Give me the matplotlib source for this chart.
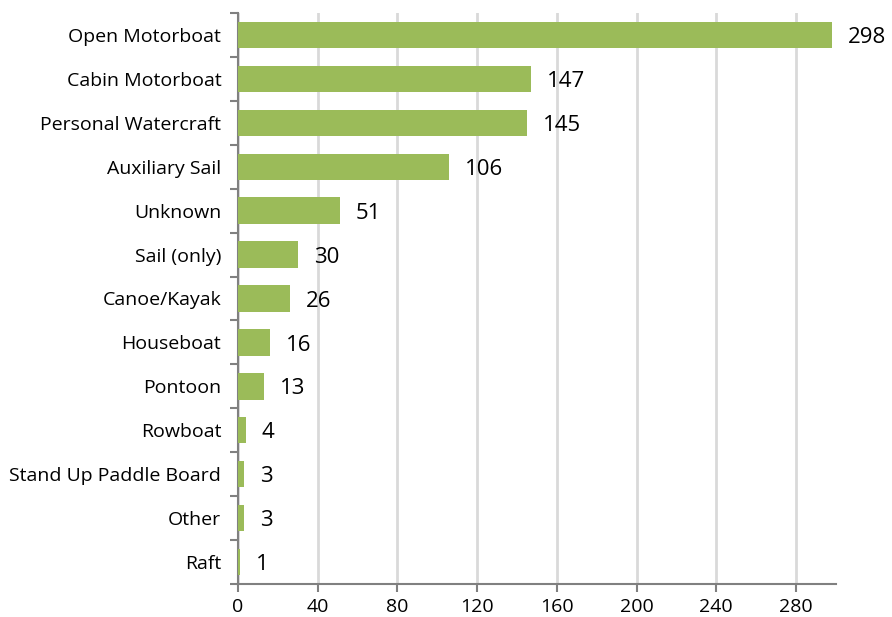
import matplotlib.pyplot as plt
import numpy as np

categories = ['Open Motorboat', 'Cabin Motorboat', 'Personal Watercraft', 'Auxiliary Sail',
              'Unknown', 'Sail (only)', 'Canoe/Kayak', 'Houseboat', 'Pontoon', 'Rowboat',
              'Stand Up Paddle Board', 'Other', 'Raft']
counts = [298, 147, 145, 106, 51, 30, 26, 16, 13, 4, 3, 3, 1]
x_ticks = [0, 40, 80, 120, 160, 200, 240, 280]

plt.rcParams['font.family'] = ['Open Sans', 'DejaVu Sans']

fig = plt.figure(figsize=(8.92, 6.17), dpi=100)
ax = fig.add_axes([0.2668, 0.0535, 0.937 - 0.2668, 0.979 - 0.0535])

n = len(categories)
y = np.arange(n)[::-1]
ax.barh(y, counts, height=0.6, color='#9BBB59', zorder=3)

for yi, v in zip(y, counts):
    ax.text(v + 8, yi - 0.06, str(v), va='center', ha='left', fontsize=16, color='black')

ax.set_xlim(0, 300)
ax.set_ylim(-0.5, n - 0.5)
ax.set_xticks(x_ticks)
ax.set_xticklabels([str(t) for t in x_ticks], fontsize=14)
ax.set_yticks(y)
ax.set_yticklabels(categories, fontsize=14)
ax.tick_params(axis='y', length=0, pad=12)
ax.set_yticks(np.arange(-0.5, n, 1.0), minor=True)
ax.tick_params(axis='y', which='minor', length=6, width=1.5, color='#808080')
ax.tick_params(axis='x', length=6, width=1.5, color='#808080', pad=4)

ax.grid(axis='x', color='#D9D9D9', linewidth=2, zorder=0)
for s in ['top', 'right']:
    ax.spines[s].set_visible(False)
for s in ['left', 'bottom']:
    ax.spines[s].set_color('#808080')
    ax.spines[s].set_linewidth(1.5)

fig.savefig('out.png', dpi=100)
